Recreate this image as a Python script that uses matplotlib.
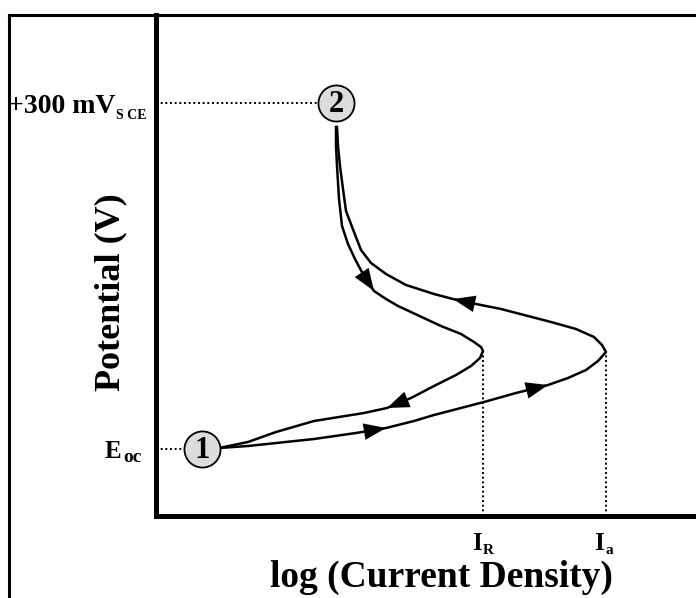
"""
Cyclic potentiodynamic polarization sketch
"""

import matplotlib
matplotlib.use('Agg')
import matplotlib.pyplot as plt
from matplotlib.lines import Line2D

# log current density (arbitrary decades) vs potential (arbitrary units)
forward_x = [0.63, 0.92, 1.58, 2.00, 2.30, 2.58, 2.78, 3.28, 3.60, 3.92, 4.12, 4.30,
             4.42, 4.50, 4.46, 4.38, 4.20, 3.95, 3.45, 3.15, 2.97, 2.78, 2.50,
             2.30, 2.15, 2.05, 1.98, 1.90, 1.87, 1.84, 1.82, 1.81]
forward_y = [0.68, 0.70, 0.77, 0.83, 0.88, 0.95, 1.01, 1.14, 1.23, 1.31, 1.38, 1.46,
             1.55, 1.64, 1.71, 1.79, 1.87, 1.94, 2.07, 2.13, 2.17, 2.22, 2.31,
             2.42, 2.53, 2.66, 2.84, 3.05, 3.27, 3.50, 3.70, 3.89]
reverse_x = [1.80, 1.80, 1.81, 1.83, 1.86, 1.92, 1.99, 2.08, 2.18, 2.30, 2.42, 2.85,
             3.05, 3.18, 3.25, 3.27, 3.24, 3.15, 3.00, 2.78, 2.55, 2.31, 2.08,
             1.58, 1.20, 0.92, 0.63]
reverse_y = [3.89, 3.70, 3.50, 3.17, 2.90, 2.72, 2.57, 2.40, 2.25, 2.17, 2.10, 1.90,
             1.82, 1.74, 1.69, 1.65, 1.58, 1.50, 1.41, 1.30, 1.18, 1.08, 1.03,
             0.95, 0.84, 0.74, 0.68]

# arrow tips: index into curve, arrow points from previous point to this one
forward_arrows = [4, 9, 20]
reverse_arrows = [8, 21]

point1 = (0.46, 0.67)   # E_oc
point2 = (1.80, 4.13)   # +300 mV_SCE
i_r = 3.27
i_a = 4.50
peak_y = 1.65

W, H = 696, 598
fig = plt.figure(figsize=(W / 100, H / 100), dpi=100, facecolor='white')


def fx(px):
    return px / W


def fy(py):
    return 1 - py / H


ax = fig.add_axes([fx(156), fy(516), fx(696) - fx(156), fy(15) - fy(516)])
ax.set_xlim(0, 5.40)
ax.set_ylim(0, 5.01)
for side in ['top', 'right']:
    ax.spines[side].set_visible(False)
for side in ['left', 'bottom']:
    ax.spines[side].set_linewidth(3.6)
    ax.spines[side].set_capstyle('projecting')
ax.set_xticks([])
ax.set_yticks([])

# outer frame (left and top only)
fig.add_artist(Line2D([fx(9), fx(9)], [0, fy(15)], color='black', lw=2.2,
                      transform=fig.transFigure))
fig.add_artist(Line2D([fx(9), 1], [fy(15), fy(15)], color='black', lw=2.2,
                      transform=fig.transFigure))

# curves
ax.plot(forward_x, forward_y, color='black', lw=1.8, solid_joinstyle='round')
ax.plot(reverse_x, reverse_y, color='black', lw=1.8, solid_joinstyle='round')

arrow_props = dict(arrowstyle='-|>,head_length=1.6,head_width=0.6',
                   color='black', lw=0, shrinkA=0, shrinkB=0)
for xs, ys, idx in [(forward_x, forward_y, forward_arrows),
                    (reverse_x, reverse_y, reverse_arrows)]:
    for i in idx:
        ax.annotate('', xy=(xs[i], ys[i]), xytext=(xs[i - 1], ys[i - 1]),
                    arrowprops=arrow_props)

# dotted guide lines
dot = dict(color='black', lw=1.4, linestyle=(0, (1, 1.4)))
ax.plot([0, point2[0] - 0.18], [point2[1], point2[1]], **dot)
ax.plot([0, point1[0] - 0.18], [point1[1], point1[1]], **dot)
ax.plot([i_r, i_r], [0, peak_y], **dot)
ax.plot([i_a, i_a], [0, peak_y], **dot)

# numbered markers
for (x, y), label in [(point1, '1'), (point2, '2')]:
    ax.plot(x, y, 'o', ms=26, mfc='#dcdcdc', mec='black', mew=1.3, zorder=5)
    ax.text(x, y - 0.02, label, ha='center', va='center', fontsize=22,
            fontweight='bold', family='Liberation Serif', zorder=6)

serif = dict(family='Liberation Serif', fontweight='bold', color='black')

fig.text(fx(111), fy(292), 'Potential (V)', rotation=90, ha='center',
         va='center', fontsize=26, **serif)
fig.text(fx(441), fy(587), 'log (Current Density)', ha='center',
         va='baseline', fontsize=27, **serif)

fig.text(fx(116), fy(113), '+300 mV', ha='right', va='baseline',
         fontsize=20, **serif)
fig.text(fx(116), fy(119), 'S CE', ha='left', va='baseline',
         fontsize=10, **serif)
fig.text(fx(121), fy(458), 'E', ha='right', va='baseline', fontsize=18, **serif)
fig.text(fx(123), fy(462), 'oc', ha='left', va='baseline', fontsize=14, **serif)

fig.text(fx(482), fy(550), 'I', ha='right', va='baseline', fontsize=18, **serif)
fig.text(fx(483), fy(554), 'R', ha='left', va='baseline', fontsize=11, **serif)
fig.text(fx(604), fy(550), 'I', ha='right', va='baseline', fontsize=18, **serif)
fig.text(fx(605), fy(554), 'a', ha='left', va='baseline', fontsize=11, **serif)

fig.savefig('out.png', dpi=100, facecolor='white')
